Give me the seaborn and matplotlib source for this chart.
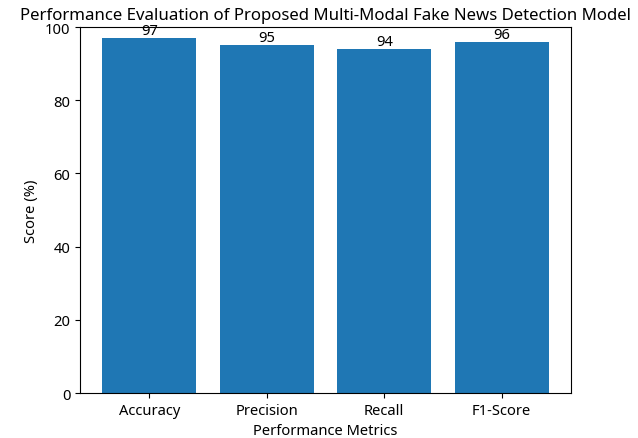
import numpy as np
import matplotlib
matplotlib.use("Agg")
import matplotlib.pyplot as plt
import seaborn as sns
import pandas as pd

metrics = ["Accuracy", "Precision", "Recall", "F1-Score"]
scores = [97, 95, 94, 96]

plt.rcParams['font.family'] = ['Noto Sans', 'DejaVu Sans']
plt.rcParams['font.size'] = 10.6

df = pd.DataFrame({"Metric": metrics, "Score": scores})

fig = plt.figure(figsize=(6.38, 4.39), dpi=100)
ax = fig.add_axes([0.1254, 0.1025, 0.7696, 0.8335])
sns.barplot(data=df, x="Metric", y="Score", color="#1f77b4", saturation=1,
            width=0.8, ax=ax)
for c in ax.containers:
    ax.bar_label(c, fmt="%d", padding=0)

ax.set_xlim(-0.59, 3.59)
ax.set_ylim(0, 100)
ax.set_xlabel("Performance Metrics")
ax.set_ylabel("Score (%)")
ax.set_title("Performance Evaluation of Proposed Multi-Modal Fake News Detection Model", fontsize=12.1)

fig.savefig("out.png", dpi=100)
